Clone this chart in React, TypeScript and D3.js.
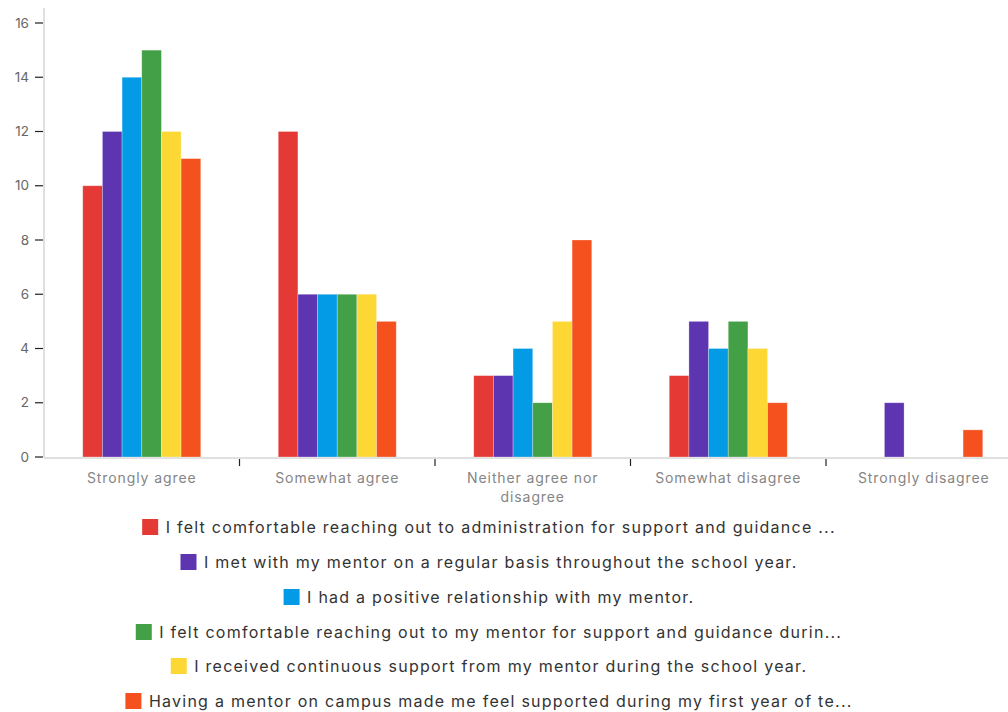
import React, { useEffect, useRef } from "react";
import * as d3 from "d3";

const categories = [
  "Strongly agree",
  "Somewhat agree",
  "Neither agree nor disagree",
  "Somewhat disagree",
  "Strongly disagree",
];

const seriesNames = [
  "I felt comfortable reaching out to administration for support and guidance ...",
  "I met with my mentor on a regular basis throughout the school year.",
  "I had a positive relationship with my mentor.",
  "I felt comfortable reaching out to my mentor for support and guidance durin...",
  "I received continuous support from my mentor during the school year.",
  "Having a mentor on campus made me feel supported during my first year of te...",
];

const seriesColors = ["#e53935", "#5e35b1", "#039be5", "#43a047", "#fdd835", "#f4511e"];

// values[series][category]
const adminSupport = [10, 12, 3, 3, 0];
const metRegularly = [12, 6, 3, 5, 2];
const positiveRelationship = [14, 6, 4, 4, 0];
const comfortableMentor = [15, 6, 2, 5, 0];
const continuousSupport = [12, 6, 5, 4, 0];
const feltSupported = [11, 5, 8, 2, 1];

const seriesValues = [
  adminSupport,
  metRegularly,
  positiveRelationship,
  comfortableMentor,
  continuousSupport,
  feltSupported,
];

const yTicks = [0, 2, 4, 6, 8, 10, 12, 14, 16];

const W = 1008;
const H = 712;
const FONT = "Inter, 'Noto Sans', sans-serif";

export default function App() {
  const ref = useRef<SVGSVGElement>(null);

  useEffect(() => {
    const svg = d3.select(ref.current);
    svg.selectAll("*").remove();

    const left = 44;
    const right = 1021.5;
    const top = 8;
    const bottom = 457;

    const x = d3.scaleBand<string>().domain(categories).range([left, right]).paddingInner(0).paddingOuter(0);
    const groupPad = 38.75;
    const inner = d3
      .scaleBand<number>()
      .domain(d3.range(seriesNames.length))
      .range([groupPad, x.bandwidth() - groupPad]);
    const y = d3.scaleLinear().domain([0, 16]).range([bottom, 23]);

    // axis lines
    svg.append("line").attr("x1", left).attr("x2", left).attr("y1", top).attr("y2", bottom)
      .attr("stroke", "#d6d6d6").attr("stroke-width", 1.5);
    svg.append("line").attr("x1", left).attr("x2", W).attr("y1", bottom + 1).attr("y2", bottom + 1)
      .attr("stroke", "#d6d6d6").attr("stroke-width", 1.5);

    // y ticks
    const yg = svg.append("g");
    yTicks.forEach((t) => {
      yg.append("line").attr("x1", 35).attr("x2", 43).attr("y1", y(t)).attr("y2", y(t))
        .attr("stroke", "#222").attr("stroke-width", 1.2);
      yg.append("text").attr("x", 29).attr("y", y(t)).attr("dy", "0.35em")
        .attr("text-anchor", "end").attr("font-family", FONT).attr("font-size", 13.5)
        .attr("fill", "#666").text(String(t));
    });

    // bars
    seriesValues.forEach((vals, si) => {
      svg.append("g").selectAll("rect")
        .data(vals.map((v, ci) => ({ v, c: categories[ci] })).filter((d) => d.v > 0))
        .join("rect")
        .attr("x", (d) => (x(d.c) as number) + (inner(si) as number))
        .attr("width", inner.bandwidth())
        .attr("y", (d) => y(d.v))
        .attr("height", (d) => y(0) - y(d.v))
        .attr("fill", seriesColors[si])
        .attr("stroke", "rgba(255,255,255,0.35)")
        .attr("stroke-width", 0.8);
    });

    // x ticks at band boundaries
    categories.slice(1).forEach((c) => {
      const xx = x(c) as number;
      svg.append("line").attr("x1", xx).attr("x2", xx).attr("y1", bottom + 2).attr("y2", bottom + 9)
        .attr("stroke", "#222").attr("stroke-width", 1.2);
    });

    // x labels (wrapped)
    categories.forEach((c) => {
      const cx = (x(c) as number) + x.bandwidth() / 2;
      const lines = c === "Neither agree nor disagree" ? ["Neither agree nor", "disagree"] : [c];
      lines.forEach((ln, i) => {
        svg.append("text").attr("x", cx).attr("y", 478 + i * 19.5).attr("dy", "0.35em")
          .attr("text-anchor", "middle").attr("font-family", FONT).attr("font-size", 14)
          .attr("letter-spacing", 0.9).attr("fill", "#858585").text(ln);
      });
    });

    // legend
    const legendCenter = 489;
    const rowY = [527, 562, 597, 632, 666, 701];
    seriesNames.forEach((name, i) => {
      const g = svg.append("g");
      const t = g.append("text").attr("y", rowY[i]).attr("dy", "0.35em")
        .attr("font-family", FONT).attr("font-size", 16).attr("letter-spacing", 1.25)
        .attr("fill", "#333").text(name);
      const tw = (t.node() as SVGTextElement).getComputedTextLength();
      const sq = 16;
      const gap = 7.5;
      const total = sq + gap + tw;
      const x0 = legendCenter - total / 2;
      g.append("rect").attr("x", x0).attr("y", rowY[i] - sq / 2).attr("width", sq).attr("height", sq)
        .attr("fill", seriesColors[i]);
      t.attr("x", x0 + sq + gap);
    });
  }, []);

  return (
    <svg
      ref={ref}
      width={W}
      height={H}
      style={{ position: "fixed", left: 0, top: 0, background: "#fff" }}
    />
  );
}
